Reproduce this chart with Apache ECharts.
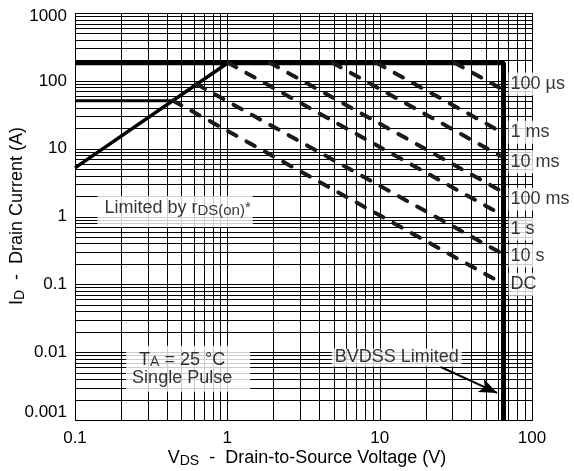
<!DOCTYPE html>
<html>
<head>
<meta charset="utf-8">
<script src="https://cdn.jsdelivr.net/npm/echarts@6.0.0/dist/echarts.min.js"></script>
<style>
html,body{margin:0;padding:0;background:#fff;}
#chart{width:574px;height:471px;}
</style>
</head>
<body>
<div id="chart"></div>
<script>
// ---------- data ----------
const xTickLabels = ['0.1', '1', '10', '100'];
const yTickLabels = ['0.001', '0.01', '0.1', '1', '10', '100', '1000'];
const gridMultipliers = [1, 2, 3, 4, 5, 6, 7, 8, 9];

const currentLimit = 185;        // A  (horizontal limit)
const bvdssVoltage = 65;         // V  (BVDSS limit)
const packageLimit = 51;         // A
const packageLimitEndV = 0.44;   // V
const rdsVoltage = [0.1, 1.01];  // rDS(on) limit line
const rdsCurrent = [5.2, 185];

const pulseNames  = ['100 µs', '1 ms', '10 ms', '100 ms', '1 s', '10 s', 'DC'];
const pulseStartV = [31, 9.5, 4.9, 1.9, 1.01, 0.63, 0.44];
const pulseStartI = [185, 185, 185, 185, 185, 89, 51];
const pulseEndV   = [62, 62, 62, 62, 62, 62, 62];
const pulseEndI   = [78, 17.9, 7.83, 2.41, 1.09, 0.293, 0.107];
const pulseLabelI = [90, 17.4, 6.4, 1.8, 0.65, 0.262, 0.1];

const arrowFrom = [25, 0.0061];
const arrowTo   = [59, 0.00251];

// ---------- chart ----------
const FONT = '"Liberation Sans", Arial, Helvetica, sans-serif';
const xMin = Number(xTickLabels[0]), xMax = Number(xTickLabels[xTickLabels.length - 1]);
const yMin = Number(yTickLabels[0]), yMax = Number(yTickLabels[yTickLabels.length - 1]);
const xOff = Math.round(Math.log10(xMin)), yOff = Math.round(Math.log10(yMin));

const gridData = [];
for (let d = xOff; d < Math.round(Math.log10(xMax)); d++)
  gridMultipliers.forEach(m => gridData.push([m * Math.pow(10, d), yMin, 0]));
gridData.push([xMax, yMin, 0]);
for (let d = yOff; d < Math.round(Math.log10(yMax)); d++)
  gridMultipliers.forEach(m => gridData.push([xMin, m * Math.pow(10, d), 1]));
gridData.push([xMin, yMax, 1]);

const chart = echarts.init(document.getElementById('chart'), null, {renderer: 'canvas'});

const series = [];

// grid lines (major + minor) through the axis scales
series.push({
  type: 'custom', z: 1, silent: true, clip: false,
  data: gridData, encode: {x: 0, y: 1},
  renderItem: function (params, api) {
    const dir = api.value(2);
    let x1, y1, x2, y2;
    if (dir === 0) {
      const a = api.coord([api.value(0), yMin]), b = api.coord([api.value(0), yMax]);
      x1 = x2 = Math.round(a[0]) + 0.5; y1 = Math.round(a[1]) + 1; y2 = Math.round(b[1]);
    } else {
      const a = api.coord([xMin, api.value(1)]), b = api.coord([xMax, api.value(1)]);
      y1 = y2 = Math.round(a[1]) + 0.5; x1 = Math.round(a[0]); x2 = Math.round(b[0]) + 1;
    }
    return {type: 'line', shape: {x1, y1, x2, y2}, style: {stroke: '#000', lineWidth: 1}};
  }
});

// current limit + BVDSS limit
series.push({
  type: 'line', z: 5, silent: true, symbol: 'none', animation: false,
  data: [[xMin, currentLimit], [bvdssVoltage, currentLimit], [bvdssVoltage, yMin]],
  lineStyle: {color: '#000', width: 5},
  markLine: {
    silent: true, animation: false,
    symbol: ['none', 'arrow'], symbolSize: [11, 18],
    label: {show: false},
    lineStyle: {color: '#000', width: 2, type: 'solid'},
    data: [[{coord: arrowFrom}, {coord: arrowTo}]]
  }
});
// package limit
series.push({
  type: 'line', z: 5, silent: true, symbol: 'none',
  data: [[xMin, packageLimit], [packageLimitEndV, packageLimit]],
  lineStyle: {color: '#000', width: 3}
});
// rDS(on) limit
series.push({
  type: 'line', z: 5, silent: true, symbol: 'none',
  data: [[rdsVoltage[0], rdsCurrent[0]], [rdsVoltage[1], rdsCurrent[1]]],
  lineStyle: {color: '#000', width: 3.5}
});
// pulse lines
pulseNames.forEach((n, i) => {
  series.push({
    type: 'line', z: 5, silent: true, symbol: 'none', name: n,
    data: [[pulseStartV[i], pulseStartI[i]], [pulseEndV[i], pulseEndI[i]]],
    lineStyle: {color: '#1a1a1a', width: 4, type: [9.5, 11.5], cap: 'round'}
  });
});

// pulse labels at the BVDSS line
series.push({
  type: 'scatter', z: 10, silent: true, symbolSize: 0,
  data: pulseNames.map((n, i) => ({value: [bvdssVoltage, pulseLabelI[i]], name: n})),
  label: {
    show: true, position: 'right', distance: 5,
    formatter: p => p.name,
    color: '#000', fontSize: 18, fontFamily: FONT, lineHeight: 18,
    backgroundColor: '#fff', padding: [4, 3, 1, 2]
  }
});

// annotation boxes
const richBase = {
  a: {fontSize: 18, fontFamily: FONT, color: '#000', lineHeight: 20},
  s: {fontSize: 15, fontFamily: FONT, color: '#000', lineHeight: 6, verticalAlign: 'bottom'},
  p: {fontSize: 15, fontFamily: FONT, color: '#000', lineHeight: 20},
  b: {fontSize: 18, fontFamily: FONT, color: '#000', lineHeight: 18},
  t: {fontSize: 14, fontFamily: FONT, color: '#000', lineHeight: 5.4, verticalAlign: 'bottom'}
};
series.push({
  type: 'scatter', z: 10, silent: true, symbolSize: 0,
  data: [
    {value: [0.454, 1.18], label: {formatter: '{a|Limited by r}{s|DS(on)}{p|*}', padding: [2, 2, 9, 7]}},
    {value: [0.553, 0.00571], label: {formatter: '{b|T}{t|A}{b| = 25 °C}\n{b|Single Pulse}', padding: [5, 18, 5, 6]}},
    {value: [12.95, 0.00835], label: {formatter: '{b|BVDSS Limited}', padding: [0, 3, 0, 3]}}
  ],
  label: {
    show: true, position: 'inside', color: '#000', fontFamily: FONT, fontSize: 18,
    backgroundColor: '#fff', rich: richBase
  }
});

const axisRich = {
  lo: {fontSize: 17, fontFamily: FONT, color: '#000', padding: [0, 0, 15, 0]},
  hi: {fontSize: 17, fontFamily: FONT, color: '#000', padding: [6, 0, 0, 0]}
};

const option = {
  animation: false,
  backgroundColor: '#fff',
  grid: {left: 75, right: 42, top: 13, bottom: 51, outerBoundsMode: 'none'},
  xAxis: {
    type: 'log', logBase: 10, min: xMin, max: xMax,
    axisLine: {show: false}, axisTick: {show: false}, splitLine: {show: false},
    axisLabel: {
      color: '#000', fontSize: 17, fontFamily: FONT, margin: 10, showMinLabel: true, showMaxLabel: true,
      formatter: v => xTickLabels[Math.round(Math.log10(v)) - xOff]
    }
  },
  yAxis: {
    type: 'log', logBase: 10, min: yMin, max: yMax,
    axisLine: {show: false}, axisTick: {show: false}, splitLine: {show: false},
    axisLabel: {
      color: '#000', fontSize: 17, fontFamily: FONT, margin: 8, showMinLabel: true, showMaxLabel: true,
      formatter: function (v) {
        const k = Math.round(Math.log10(v)) - yOff;
        const s = yTickLabels[k];
        if (k === 0) return '{lo|' + s + '}';
        if (k === yTickLabels.length - 1) return '{hi|' + s + '}';
        return s;
      },
      rich: axisRich
    }
  },
  graphic: [
    {
      type: 'text', x: 307, y: 457.7, silent: true,
      style: {
        text: '{a|V}{s|DS}{a|  -  Drain-to-Source Voltage (V)}',
        align: 'center', verticalAlign: 'middle',
        rich: {
          a: {fontSize: 18, fontFamily: FONT, fill: '#000', lineHeight: 20},
          s: {fontSize: 14, fontFamily: FONT, fill: '#000', lineHeight: 12.4, verticalAlign: 'bottom'}
        }
      }
    },
    {
      type: 'text', x: 17, y: 216, rotation: Math.PI / 2, silent: true,
      style: {
        text: '{a|I}{s|D}{a|  -  Drain Current (A)}',
        align: 'center', verticalAlign: 'middle',
        rich: {
          a: {fontSize: 18, fontFamily: FONT, fill: '#000', lineHeight: 20},
          s: {fontSize: 14, fontFamily: FONT, fill: '#000', lineHeight: 12.4, verticalAlign: 'bottom'}
        }
      }
    }
  ],
  series: series
};
chart.setOption(option);
</script>
</body>
</html>
